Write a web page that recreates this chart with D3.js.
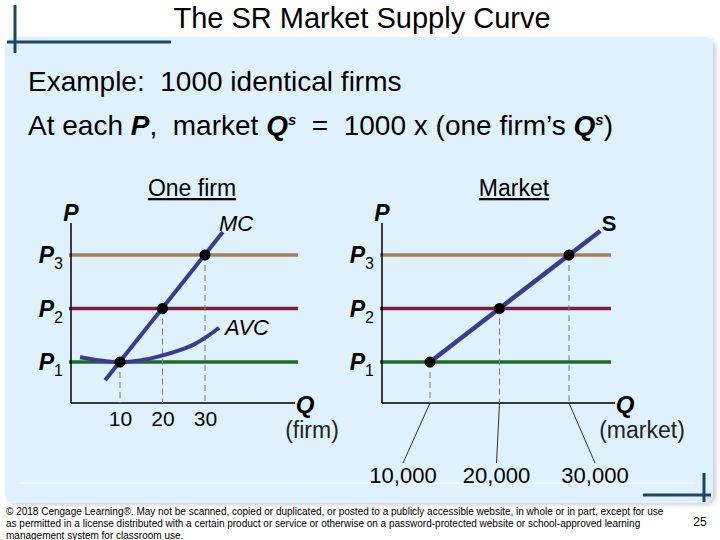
<!DOCTYPE html>
<html>
<head>
<meta charset="utf-8">
<script src="https://cdn.jsdelivr.net/npm/d3@7"></script>
<style>
  body { margin: 0; background: #fff; }
  svg { display: block; font-family: "Liberation Sans", Arial, sans-serif; }
</style>
</head>
<body>
<div id="slide"></div>
<script>
// values
const priceLevels = [1, 2, 3];              // P1, P2, P3
const firmQ = [10, 20, 30];                 // one firm's Qs at each price
const marketQ = [10000, 20000, 30000];      // market Qs = 1000 x firm
const mcCurve = [[6.5, 0.66], [34.2, 3.43]];
const avcCurve = [[0.6, 1.09], [5.3, 1.03], [10, 1.0], [14.7, 1.03], [19.4, 1.11],
                  [24.1, 1.22], [27.2, 1.32], [30, 1.45], [33.3, 1.64]];
const supplyCurve = [[10000, 1], [34500, 3.45]];
const marketTickLabels = ["10,000", "20,000", "30,000"];
const footerLines = [
  "\u00a9 2018 Cengage Learning\u00ae. May not be scanned, copied or duplicated, or posted to a publicly accessible website, in whole or in part, except for use",
  "as permitted in a license distributed with a certain product or service or otherwise on a password-protected website or school-approved learning",
  "management system for classroom use."
];

const priceColour = {1: "#1d6b2c", 2: "#861a3a", 3: "#a0805e"};
const curveColour = "#3c3c8e";

const width = 720, height = 540;
const svg = d3.select("#slide").append("svg")
    .attr("width", width)
    .attr("height", height);

// panel background with soft shadow
const defs = svg.append("defs");
const shadow = defs.append("filter").attr("id", "shadow")
    .attr("x", "-5%").attr("y", "-5%").attr("width", "110%").attr("height", "110%");
shadow.append("feDropShadow")
    .attr("dx", 3).attr("dy", 2).attr("stdDeviation", 2)
    .attr("flood-color", "#000").attr("flood-opacity", 0.18);

svg.append("rect")
    .attr("x", 5).attr("y", 37)
    .attr("width", 708).attr("height", 466)
    .attr("rx", 9)
    .attr("fill", "#dff1fc")
    .attr("filter", "url(#shadow)");
svg.append("line")
    .attr("x1", 20).attr("x2", 695).attr("y1", 483).attr("y2", 483)
    .attr("stroke", "#fff").attr("stroke-width", 1).attr("opacity", 0.8);

// corner decorations
const deco = svg.append("g").attr("stroke", "#1b4660").attr("stroke-width", 3);
deco.append("line").attr("x1", 15).attr("x2", 15).attr("y1", 5).attr("y2", 53);
deco.append("line").attr("x1", 7).attr("x2", 171).attr("y1", 42).attr("y2", 42);
deco.append("line").attr("x1", 643).attr("x2", 711).attr("y1", 495).attr("y2", 495);
deco.append("line").attr("x1", 704).attr("x2", 704).attr("y1", 473).attr("y2", 502);

// header text
svg.append("text")
    .attr("x", 362).attr("y", 28)
    .attr("text-anchor", "middle")
    .attr("font-size", 29)
    .text("The SR Market Supply Curve");

svg.append("text")
    .attr("x", 28).attr("y", 91)
    .attr("font-size", 28)
    .attr("xml:space", "preserve")
    .text("Example:  1000 identical firms");

const line2 = svg.append("text")
    .attr("x", 28).attr("y", 135)
    .attr("font-size", 28)
    .attr("xml:space", "preserve");
line2.append("tspan").text("At each ");
line2.append("tspan").attr("font-weight", "bold").attr("font-style", "italic").text("P");
line2.append("tspan").text(",  market ");
line2.append("tspan").attr("font-weight", "bold").attr("font-style", "italic").text("Q");
line2.append("tspan").attr("font-weight", "bold").attr("font-style", "italic")
    .attr("font-size", 15).attr("dy", -10).text("s");
line2.append("tspan").attr("dy", 10).text("  =  1000 x (one firm\u2019s ");
line2.append("tspan").attr("font-weight", "bold").attr("font-style", "italic").text("Q");
line2.append("tspan").attr("font-weight", "bold").attr("font-style", "italic")
    .attr("font-size", 15).attr("dy", -10).text("s");
line2.append("tspan").attr("dy", 10).text(")");

// shared price scale
const yP = d3.scaleLinear().domain([1, 3]).range([362, 255]);
const axisTop = 223, axisBottom = 403;

function priceLabel(g, x, p) {
    const t = g.append("text")
        .attr("x", x).attr("y", yP(p) + 8)
        .attr("text-anchor", "end")
        .attr("font-size", 23);
    t.append("tspan").attr("font-weight", "bold").attr("font-style", "italic").text("P");
    t.append("tspan").attr("font-size", 16).attr("dy", 6).text(p);
}

function drawPanel(opts) {
    const g = svg.append("g");
    const x = opts.x;

    // price lines
    g.selectAll(".price").data(priceLevels).join("line")
        .attr("x1", opts.left - 2).attr("x2", opts.right)
        .attr("y1", d => yP(d)).attr("y2", d => yP(d))
        .attr("stroke", d => priceColour[d])
        .attr("stroke-width", 3.5);

    // axes
    g.append("line")
        .attr("x1", opts.left).attr("x2", opts.left)
        .attr("y1", axisTop).attr("y2", axisBottom)
        .attr("stroke", "#000").attr("stroke-width", 1.5);
    g.append("line")
        .attr("x1", opts.left).attr("x2", opts.axisEnd)
        .attr("y1", axisBottom).attr("y2", axisBottom)
        .attr("stroke", "#000").attr("stroke-width", 1.5);

    // dashed drops
    g.selectAll(".drop").data(opts.qs).join("line")
        .attr("x1", d => x(d)).attr("x2", d => x(d))
        .attr("y1", (d, i) => yP(priceLevels[i])).attr("y2", axisBottom)
        .attr("stroke", "#7a7a7a").attr("stroke-width", 1)
        .attr("stroke-dasharray", "6,4");

    priceLevels.forEach(p => priceLabel(g, opts.labelX, p));

    g.append("text")
        .attr("x", opts.left).attr("y", 221)
        .attr("text-anchor", "middle")
        .attr("font-size", 23).attr("font-weight", "bold").attr("font-style", "italic")
        .text("P");
    g.append("text")
        .attr("x", opts.axisEnd + 10).attr("y", 413)
        .attr("text-anchor", "middle")
        .attr("font-size", 24).attr("font-weight", "bold").attr("font-style", "italic")
        .text("Q");
    g.append("text")
        .attr("x", opts.axisEnd + opts.unitDx).attr("y", 438)
        .attr("text-anchor", "middle")
        .attr("font-size", 23).attr("fill", "#222")
        .text(opts.unit);
    g.append("text")
        .attr("x", opts.titleX).attr("y", 196)
        .attr("text-anchor", "middle")
        .attr("font-size", 23)
        .attr("text-decoration", "underline")
        .text(opts.title);
    return g;
}

// ---- one firm ----
const xFirm = d3.scaleLinear().domain([10, 30]).range([120, 205]);
const firm = drawPanel({
    x: xFirm, qs: firmQ, left: 71, right: 298, axisEnd: 295, labelX: 63,
    unit: "(firm)", unitDx: 17, title: "One firm", titleX: 192
});

const curve = d3.line().curve(d3.curveCatmullRom);
firm.append("path")
    .attr("d", curve(avcCurve.map(d => [xFirm(d[0]), yP(d[1])])))
    .attr("fill", "none").attr("stroke", curveColour).attr("stroke-width", 4);
firm.append("path")
    .attr("d", d3.line()(mcCurve.map(d => [xFirm(d[0]), yP(d[1])])))
    .attr("fill", "none").attr("stroke", curveColour).attr("stroke-width", 4);

firm.selectAll(".dot").data(firmQ).join("circle")
    .attr("cx", d => xFirm(d))
    .attr("cy", (d, i) => yP(priceLevels[i]))
    .attr("r", 5.5).attr("fill", "#000");

firm.append("g")
    .attr("transform", `translate(0,${axisBottom})`)
    .call(d3.axisBottom(xFirm).tickValues(firmQ).tickSize(0).tickPadding(8))
    .call(g => g.select(".domain").remove())
    .call(g => g.selectAll("text")
        .attr("font-family", "Liberation Sans, Arial, sans-serif")
        .attr("font-size", 21).attr("fill", "#000"));

firm.append("text")
    .attr("x", 236).attr("y", 231)
    .attr("text-anchor", "middle")
    .attr("font-size", 22).attr("font-style", "italic")
    .text("MC");
firm.append("text")
    .attr("x", 247).attr("y", 335)
    .attr("text-anchor", "middle")
    .attr("font-size", 22).attr("font-style", "italic")
    .text("AVC");

// ---- market ----
const xMarket = d3.scaleLinear().domain([10000, 30000]).range([430, 569]);
const market = drawPanel({
    x: xMarket, qs: marketQ, left: 382, right: 611, axisEnd: 615, labelX: 374,
    unit: "(market)", unitDx: 27, title: "Market", titleX: 514
});

market.append("path")
    .attr("d", d3.line()(supplyCurve.map(d => [xMarket(d[0]), yP(d[1])])))
    .attr("fill", "none").attr("stroke", curveColour).attr("stroke-width", 4.5);

market.selectAll(".dot").data(marketQ).join("circle")
    .attr("cx", d => xMarket(d))
    .attr("cy", (d, i) => yP(priceLevels[i]))
    .attr("r", 5.5).attr("fill", "#000");

market.append("text")
    .attr("x", 609).attr("y", 231)
    .attr("text-anchor", "middle")
    .attr("font-size", 22).attr("font-weight", "bold")
    .text("S");

// spread-out tick labels with leader lines
const labelShift = [-27, -3, 26];
market.selectAll(".leader").data(marketQ).join("line")
    .attr("x1", d => xMarket(d)).attr("y1", axisBottom)
    .attr("x2", (d, i) => xMarket(d) + labelShift[i]).attr("y2", 463)
    .attr("stroke", "#000").attr("stroke-width", 0.8);
market.selectAll(".qlab").data(marketTickLabels).join("text")
    .attr("x", (d, i) => xMarket(marketQ[i]) + labelShift[i])
    .attr("y", 483)
    .attr("text-anchor", "middle")
    .attr("font-size", 22)
    .text(d => d);

// footer
svg.append("g").selectAll("text").data(footerLines).join("text")
    .attr("x", 6).attr("y", (d, i) => 515 + i * 12)
    .attr("font-size", 10)
    .text(d => d);
svg.append("text")
    .attr("x", 700).attr("y", 526)
    .attr("text-anchor", "middle")
    .attr("font-size", 12)
    .text("25");
</script>
</body>
</html>
